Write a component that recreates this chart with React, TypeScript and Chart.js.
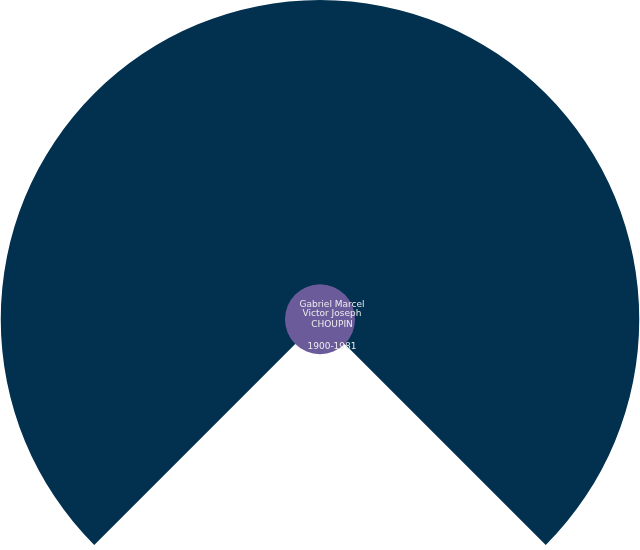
import { useEffect, useRef } from 'react'
import { Chart, registerables } from 'chart.js'
import type { Plugin } from 'chart.js'

Chart.register(...registerables)

// fan chart: one generation ring around the root person
const generationLabels = ['Ancêtres']
const generationValues = [1]
const generationColours = ['#02304f']

const rootLines = ['Gabriel Marcel', 'Victor Joseph', 'CHOUPIN', '', '1900-1981']
const rootLineOffsets = [-15, -5.5, 5, 16, 27.5]

const rootCircle: Plugin<'doughnut'> = {
  id: 'rootCircle',
  afterDatasetsDraw(chart) {
    const arc = chart.getDatasetMeta(0).data[0] as any
    if (!arc) return
    const { x, y } = arc.getProps(['x', 'y'], true)
    const ctx = chart.ctx
    ctx.save()
    ctx.beginPath()
    ctx.arc(x, y, 35, 0, Math.PI * 2)
    ctx.fillStyle = '#6b5b9b'
    ctx.fill()
    ctx.fillStyle = '#ececec'
    ctx.font = '9px "DejaVu Sans"'
    ctx.textAlign = 'center'
    ctx.textBaseline = 'middle'
    rootLines.forEach((line, i) => {
      if (line) ctx.fillText(line, x + 12, y + rootLineOffsets[i])
    })
    ctx.restore()
  },
}

export default function App() {
  const canvasRef = useRef<HTMLCanvasElement>(null)

  useEffect(() => {
    if (!canvasRef.current) return
    const chart = new Chart(canvasRef.current, {
      type: 'doughnut',
      data: {
        labels: generationLabels,
        datasets: [{
          data: generationValues,
          backgroundColor: generationColours,
          hoverBackgroundColor: generationColours,
          borderWidth: 0,
        }],
      },
      options: {
        animation: false,
        responsive: false,
        maintainAspectRatio: false,
        events: [],
        cutout: 0,
        rotation: -135,
        circumference: 270,
        layout: { padding: { bottom: 5 } },
        plugins: {
          legend: { display: false },
          tooltip: { enabled: false },
        },
      },
      plugins: [rootCircle],
    })
    return () => chart.destroy()
  }, [])

  return (
    <div style={{ position: 'fixed', left: 0, top: 0, width: 640, height: 550, background: '#fff' }}>
      <canvas ref={canvasRef} width={640} height={550} style={{ width: 640, height: 550 }} />
    </div>
  )
}
